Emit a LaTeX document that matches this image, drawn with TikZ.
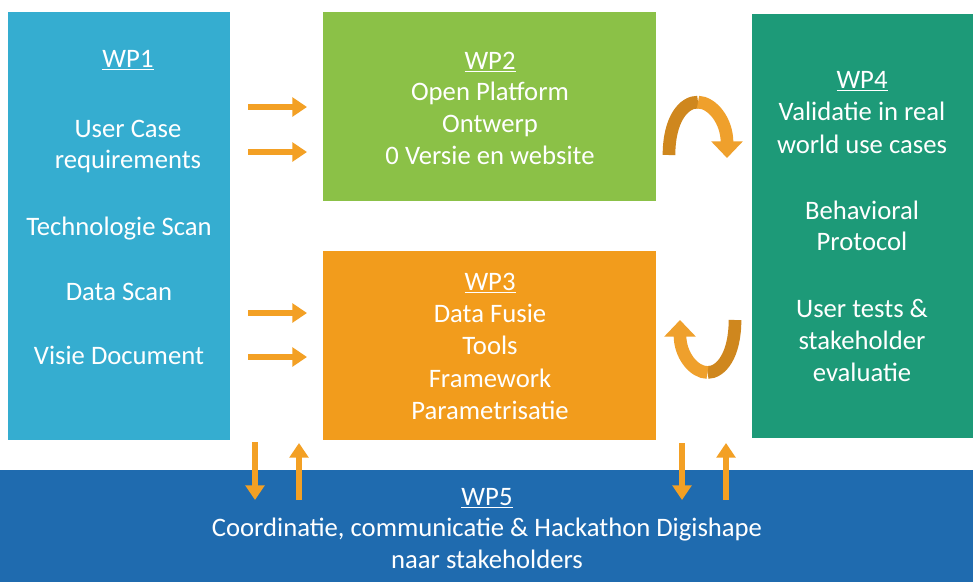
\documentclass[tikz,border=0pt]{standalone}
\usepackage{fontspec}
\setmainfont{Carlito}
\usetikzlibrary{arrows.meta,fit}
\definecolor{cwpone}{HTML}{35ADD0}
\definecolor{cwptwo}{HTML}{8BC147}
\definecolor{cwpthree}{HTML}{F29C1C}
\definecolor{cwpfour}{HTML}{1D9A78}
\definecolor{cwpfive}{HTML}{1F6BAF}
\definecolor{corange}{HTML}{F3A024}
\definecolor{cdark}{HTML}{CF871E}
\definecolor{clight}{HTML}{EFA02C}
\begin{document}
\begin{tikzpicture}[x=0.75pt,y=-0.75pt,
  wpbox/.style={inner sep=0pt,draw=none},
  txt/.style={text=white,font=\fontsize{20}{24}\selectfont,inner sep=0pt,text height=14pt,text depth=4pt,anchor=center},
  oarr/.style={draw=corange,line width=4.4pt,-{Triangle[width=14pt,length=11pt]}},
  cdarkseg/.style={draw=cdark,line width=9.5pt},
  clightseg/.style={draw=clight,line width=9.5pt,-{Triangle[width=23pt,length=12.5pt]}}]
\useasboundingbox (0,0) rectangle (973,582);
\fill[white] (0,0) rectangle (973,582);
% boxes
\node[wpbox,fill=cwpone,fit={(8,12) (230,440)}] (wp1) {};
\node[wpbox,fill=cwptwo,fit={(323,12) (656,201)}] (wp2) {};
\node[wpbox,fill=cwpthree,fit={(323,251) (656,440)}] (wp3) {};
\node[wpbox,fill=cwpfour,fit={(752,14) (973,438)}] (wp4) {};
\node[wpbox,fill=cwpfive,fit={(0,470) (973,582)}] (wp5) {};
% WP1 text
\node[txt] (t1a) at (128,61) {\underline{WP1}};
\node[txt] (t1b) at (128,131) {User Case};
\node[txt] (t1c) at (128,162) {requirements};
\node[txt] (t1d) at (119,229) {Technologie Scan};
\node[txt] (t1e) at (119,294) {Data Scan};
\node[txt] (t1f) at (119,358) {Visie Document};
% WP2 text
\node[txt] (t2a) at (490,63) {\underline{WP2}};
\node[txt] (t2b) at (490,94) {Open Platform};
\node[txt] (t2c) at (490,126) {Ontwerp};
\node[txt] (t2d) at (490,158) {0 Versie en website};
% WP3 text
\node[txt] (t3a) at (490,284) {\underline{WP3}};
\node[txt] (t3b) at (490,316) {Data Fusie};
\node[txt] (t3c) at (490,348) {Tools};
\node[txt] (t3d) at (490,381) {Framework};
\node[txt] (t3e) at (490,413) {Parametrisatie};
% WP4 text
\node[txt] (t4a) at (862,82) {\underline{WP4}};
\node[txt] (t4b) at (862,114) {Validatie in real};
\node[txt] (t4c) at (862,147) {world use cases};
\node[txt] (t4d) at (862,213) {Behavioral};
\node[txt] (t4e) at (862,244) {Protocol};
\node[txt] (t4f) at (862,311) {User tests \&};
\node[txt] (t4g) at (862,343) {stakeholder};
\node[txt] (t4h) at (862,375) {evaluatie};
% WP5 text
\node[txt] (t5a) at (487,499) {\underline{WP5}};
\node[txt] (t5b) at (487,530) {Coordinatie, communicatie \& Hackathon Digishape};
\node[txt] (t5c) at (487,562) {naar stakeholders};
% straight arrow end points
\coordinate (r1s) at (248,107); \coordinate (r1e) at (307,107);
\coordinate (r2s) at (248,152); \coordinate (r2e) at (307,152);
\coordinate (r3s) at (248,313); \coordinate (r3e) at (307,313);
\coordinate (r4s) at (248,357); \coordinate (r4e) at (307,357);
\coordinate (d1s) at (255,442); \coordinate (d1e) at (255,500);
\coordinate (u1s) at (299,500); \coordinate (u1e) at (299,443);
\coordinate (d2s) at (682,443); \coordinate (d2e) at (682,500);
\coordinate (u2s) at (726,500); \coordinate (u2e) at (726,443);
\draw[oarr] (r1s) -- (r1e);
\draw[oarr] (r2s) -- (r2e);
\draw[oarr] (r3s) -- (r3e);
\draw[oarr] (r4s) -- (r4e);
\draw[oarr] (d1s) -- (d1e);
\draw[oarr] (u1s) -- (u1e);
\draw[oarr] (d2s) -- (d2e);
\draw[oarr] (u2s) -- (u2e);
% curved arrows
\coordinate (ca0) at (669,155);
\coordinate (cam) at (698,102.1);
\coordinate (ca1) at (727,158);
\draw[cdarkseg] (ca0) .. controls (669,119.5) and (683.5,101.75) .. (cam);
\draw[clightseg] (cam) .. controls (712.5,102.5) and (727,121) .. (ca1);
\coordinate (cb0) at (735,320);
\coordinate (cbm) at (707.5,372.5);
\coordinate (cb1) at (680,320);
\draw[cdarkseg] (cb0) .. controls (735,355) and (721.25,372.5) .. (cbm);
\draw[clightseg] (cbm) .. controls (693.75,372.5) and (680,355) .. (cb1);
\end{tikzpicture}
\end{document}
